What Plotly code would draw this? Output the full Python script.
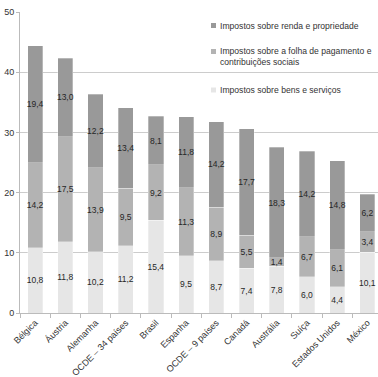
import plotly.graph_objects as go

# Tax burden by type (% of GDP)
paises = ["Bélgica", "Áustria", "Alemanha", "OCDE – 34 países", "Brasil", "Espanha",
          "OCDE – 9 países", "Canadá", "Austrália", "Suíça", "Estados Unidos", "México"]
bens_servicos = [10.8, 11.8, 10.2, 11.2, 15.4, 9.5, 8.7, 7.4, 7.8, 6.0, 4.4, 10.1]
folha_contrib = [14.2, 17.5, 13.9, 9.5, 9.2, 11.3, 8.9, 5.5, 1.4, 6.7, 6.1, 3.4]
renda_propriedade = [19.4, 13.0, 12.2, 13.4, 8.1, 11.8, 14.2, 17.7, 18.3, 14.2, 14.8, 6.2]

nomes = ["Impostos sobre bens e serviços",
         "Impostos sobre a folha de pagamento e<br>contribuições sociais",
         "Impostos sobre renda e propriedade"]
cores = ["#e6e6e6", "#b3b3b3", "#999999"]
series = [bens_servicos, folha_contrib, renda_propriedade]

W, H = 378, 377
ML, MR, MT, MB = 20, 0, 12, 64
FONT = "Liberation Sans, Arial, sans-serif"
TXT = "#333333"


def fmt(v):
    return f"{v:.1f}".replace(".", ",")


fig = go.Figure()
for nome, cor, vals in zip(nomes, cores, series):
    fig.add_trace(go.Bar(
        x=paises, y=vals, name=nome,
        marker=dict(color=cor, line=dict(width=0.6, color="rgba(255,255,255,0.5)")),
        text=[fmt(v) for v in vals],
        textposition="inside", insidetextanchor="middle",
        textangle=0, constraintext="none",
        textfont=dict(family=FONT, size=8.5, color="#262626"),
        width=0.5, showlegend=False,
    ))


# legend drawn as small squares + labels in pixel positions
def px_to_paper(px, py):
    return (px - ML) / (W - ML - MR), (H - MB - py) / (H - MT - MB)


itens = [  # (label, color, square y, text y)
    (nomes[2], cores[2], 25.5, 25.5),
    (nomes[1], cores[1], 51.5, 57),
    (nomes[0], cores[0], 90, 90),
]
shapes, annots = [], []
for label, cor, sy, ty in itens:
    sx, syp = px_to_paper(213.5, sy)
    shapes.append(dict(type="rect", xref="paper", yref="paper",
                       xsizemode="pixel", ysizemode="pixel",
                       xanchor=sx, yanchor=syp, x0=-2.5, x1=2.5, y0=-2.5, y1=2.5,
                       fillcolor=cor, line=dict(width=0)))
    tx, typ = px_to_paper(217.5, ty)
    annots.append(dict(text=label, xref="paper", yref="paper", x=tx, y=typ,
                       xanchor="left", yanchor="middle", align="left",
                       showarrow=False, font=dict(family=FONT, size=8.6, color=TXT)))

fig.update_layout(
    width=W, height=H,
    margin=dict(l=ML, r=MR, t=MT, b=MB, pad=0),
    barmode="stack",
    plot_bgcolor="white", paper_bgcolor="white",
    font=dict(family=FONT, size=9, color=TXT),
    shapes=shapes, annotations=annots,
    xaxis=dict(type="category", range=[-0.5, 11.35], tickson="boundaries",
               ticks="outside", ticklen=4, tickcolor="#bbbbbb",
               showline=True, linecolor="#bbbbbb", linewidth=1,
               showgrid=False, tickangle=-45,
               tickfont=dict(family=FONT, size=9, color=TXT)),
    yaxis=dict(range=[0, 50], dtick=10, ticks="outside", ticklen=3,
               tickcolor="#bbbbbb", showline=True, linecolor="#bbbbbb",
               gridcolor="#cccccc", gridwidth=1, zeroline=False,
               tickfont=dict(family=FONT, size=9, color=TXT)),
)

fig.write_html("out.html")
